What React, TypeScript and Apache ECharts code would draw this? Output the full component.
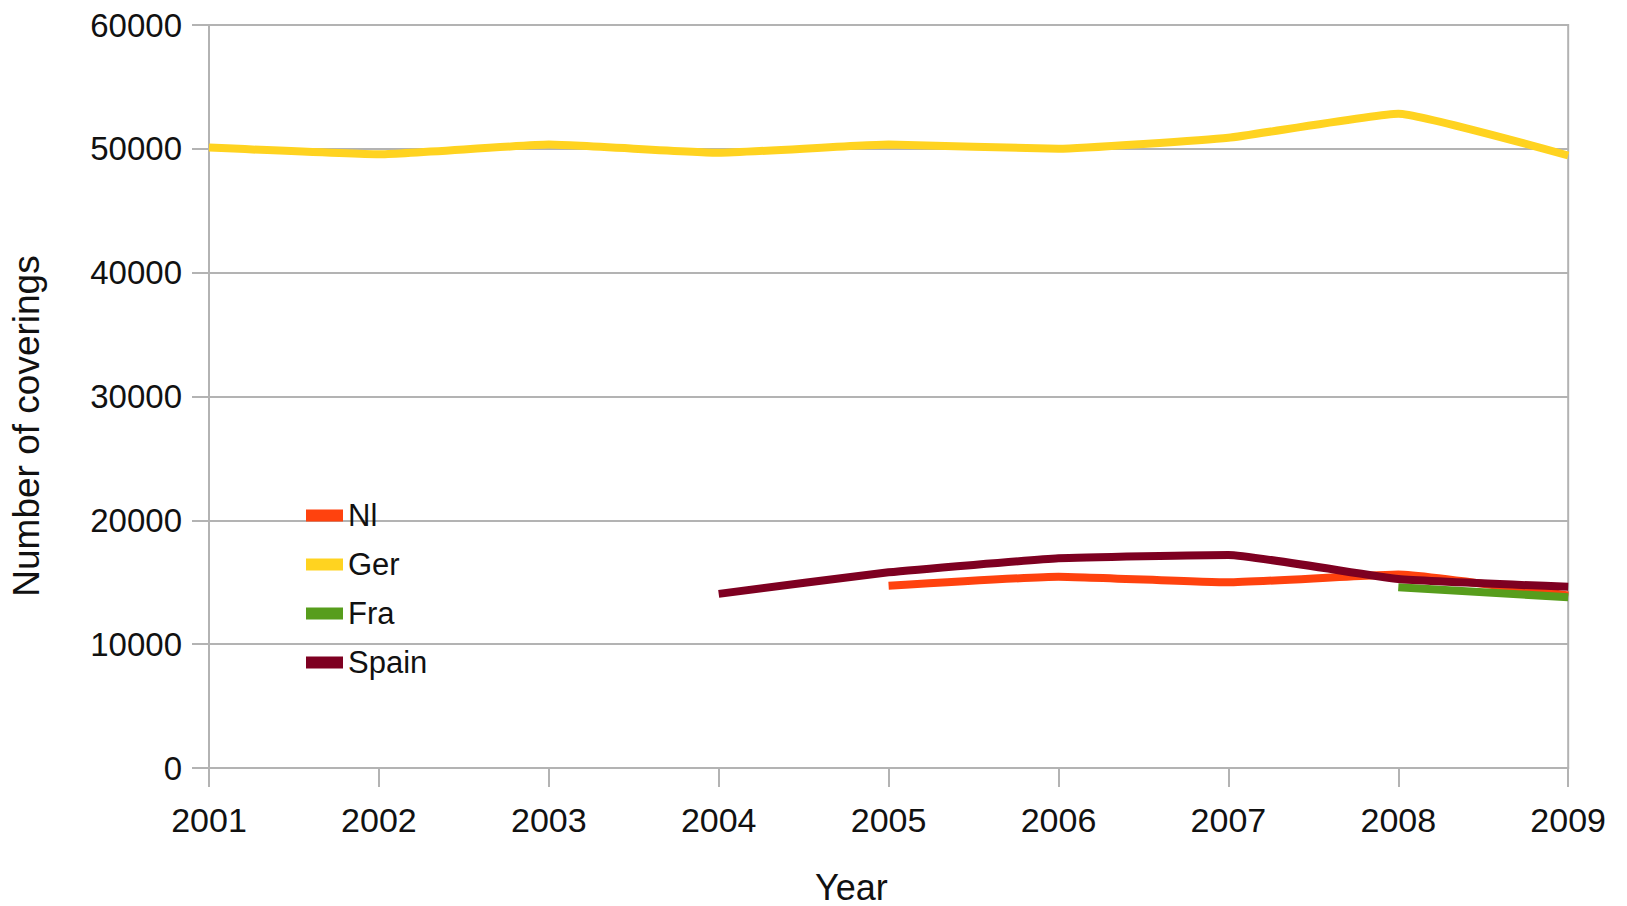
import React, { useEffect, useRef } from "react";
import * as echarts from "echarts";

const years = ["2001", "2002", "2003", "2004", "2005", "2006", "2007", "2008", "2009"];
const nl = [null, null, null, null, 14720, 15450, 14990, 15620, 13930];
const ger = [50100, 49560, 50340, 49680, 50350, 50000, 50890, 52840, 49460];
const fra = [null, null, null, null, null, null, null, 14600, 13790];
const spain = [null, null, null, 14060, 15800, 16930, 17200, 15260, 14630];
const yTicks = { min: 0, max: 60000, interval: 10000 };

const FONT = "Liberation Sans";
const TEXT = "#111111";
const GRID = "#b3b3b3";

export default function App() {
  const ref = useRef<HTMLDivElement>(null);
  useEffect(() => {
    if (!ref.current) return;
    const chart = echarts.init(ref.current, undefined, { renderer: "svg" });
    const mk = (name: string, data: (number | null)[], color: string) => ({
      name,
      type: "line",
      data,
      smooth: 0.12,
      showSymbol: false,
      symbol: "none",
      connectNulls: false,
      lineStyle: { color, width: 8 },
      itemStyle: { color },
    });
    chart.setOption({
      animation: false,
      backgroundColor: "#ffffff",
      textStyle: { fontFamily: FONT },
      grid: {
        left: 209,
        right: 30,
        top: 25,
        bottom: 138,
        show: true,
        borderColor: GRID,
        borderWidth: 2,
      },
      xAxis: {
        type: "category",
        data: years,
        boundaryGap: false,
        axisLine: { lineStyle: { color: GRID, width: 2 } },
        axisTick: { show: true, length: 19, lineStyle: { color: GRID, width: 2 } },
        axisLabel: { color: TEXT, fontSize: 34, fontFamily: FONT, margin: 35, interval: 0 },
        splitLine: { show: false },
      },
      yAxis: {
        type: "value",
        min: yTicks.min,
        max: yTicks.max,
        interval: yTicks.interval,
        axisLine: { show: true, lineStyle: { color: GRID, width: 2 } },
        axisTick: { show: true, length: 17, lineStyle: { color: GRID, width: 2 } },
        axisLabel: {
          color: TEXT,
          fontSize: 33,
          fontFamily: FONT,
          margin: 27,
          formatter: (v: number) => String(v),
        },
        splitLine: { show: true, lineStyle: { color: GRID, width: 2 } },
      },
      legend: {
        orient: "vertical",
        left: 301,
        top: 495,
        icon: "rect",
        itemWidth: 37,
        itemHeight: 12,
        itemGap: 18,
        textStyle: { color: TEXT, fontSize: 31, fontFamily: FONT },
        data: ["Nl", "Ger", "Fra", "Spain"],
      },
      graphic: [
        {
          type: "text",
          left: 815,
          top: 869,
          style: { text: "Year", fill: TEXT, font: `36px "${FONT}"` },
        },
        {
          type: "text",
          x: 26,
          y: 426,
          rotation: Math.PI / 2,
          style: {
            text: "Number of coverings",
            fill: TEXT,
            font: `37px "${FONT}"`,
            align: "center",
            verticalAlign: "middle",
          },
        },
      ],
      series: [
        mk("Nl", nl, "#ff420e"),
        mk("Ger", ger, "#ffd320"),
        mk("Fra", fra, "#579d1c"),
        mk("Spain", spain, "#7e0021"),
      ],
    });
    return () => chart.dispose();
  }, []);
  return (
    <div
      ref={ref}
      style={{ position: "absolute", left: 0, top: 0, width: 1609, height: 906, overflow: "hidden" }}
    />
  );
}
